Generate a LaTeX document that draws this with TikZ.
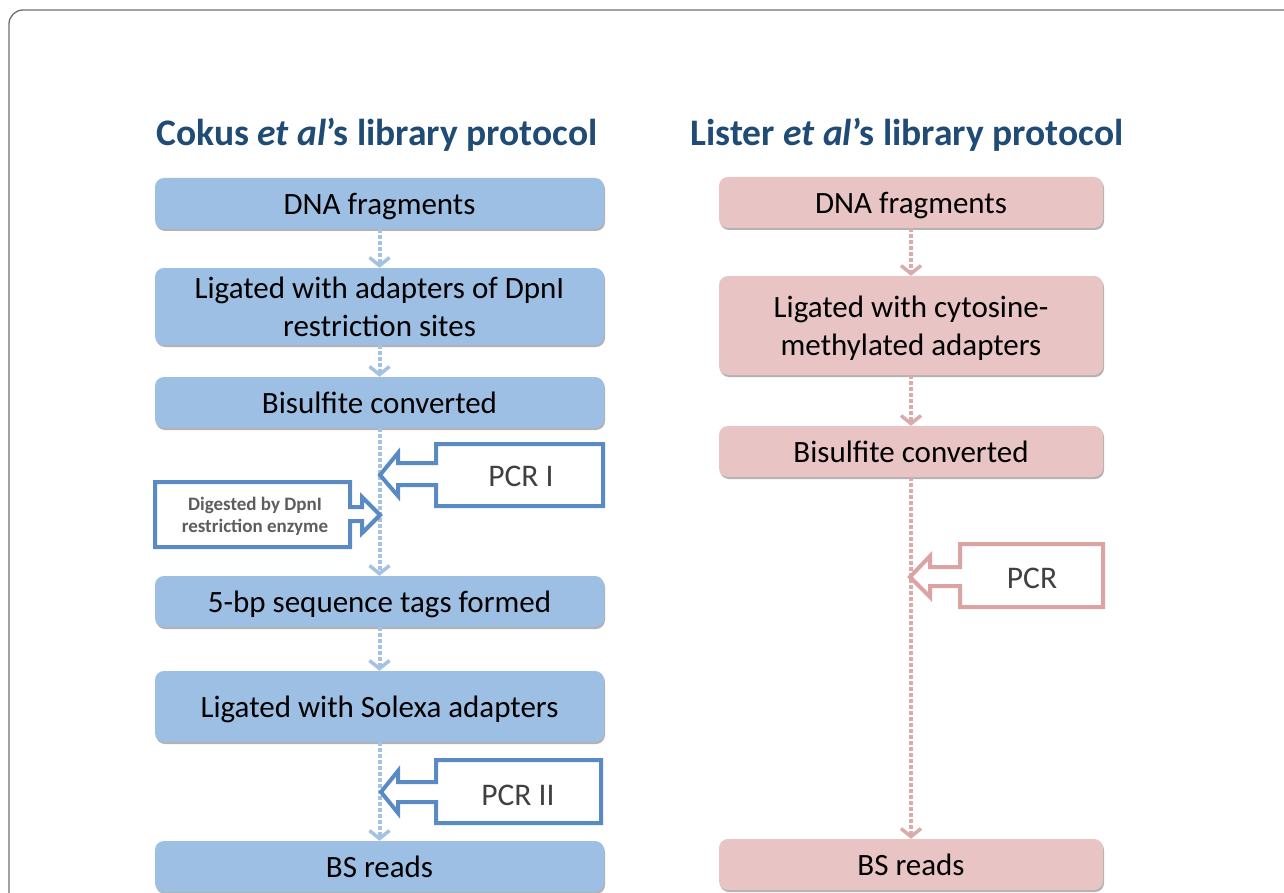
\documentclass[tikz,border=0pt]{standalone}
\usepackage{fontspec}
\setmainfont{Carlito}
\usetikzlibrary{arrows.meta,shadows}
\definecolor{boxblue}{HTML}{9DBFE3}
\definecolor{boxpink}{HTML}{E8C4C4}
\definecolor{titleblue}{HTML}{1F4B74}
\definecolor{strokeblue}{HTML}{5A8AC4}
\definecolor{strokepink}{HTML}{DCA3A3}
\definecolor{lineblue}{HTML}{A6C2E3}
\definecolor{linepink}{HTML}{DAABAB}
\definecolor{calltext}{HTML}{404040}
\definecolor{frameg}{HTML}{6E6E6E}
\begin{document}
\begin{tikzpicture}[x=1pt,y=-1pt,
  boxbase/.style={rounded corners=9pt, align=center, inner sep=2pt, text depth=0pt,
    font=\fontsize{31}{38}\selectfont,
    drop shadow={shadow xshift=1pt, shadow yshift=-2pt, opacity=0.3, fill=black}},
  lbox/.style={boxbase, fill=boxblue, minimum width=449pt},
  rbox/.style={boxbase, fill=boxpink, minimum width=384pt},
  ttl/.style={anchor=base, text=titleblue, font=\fontsize{37.5}{42}\selectfont\bfseries},
  lconn/.style={draw=lineblue, line width=4pt, dash pattern=on 4pt off 2pt,
    -{Straight Barb[length=8pt,width=20pt,line width=3.5pt]}},
  rconn/.style={draw=linepink, line width=4pt, dash pattern=on 4pt off 2pt,
    -{Straight Barb[length=8pt,width=20pt,line width=3.5pt]}},
  callb/.style={draw=strokeblue, line width=4pt, fill=white, line join=miter,
    drop shadow={shadow xshift=1.5pt, shadow yshift=-1.5pt, opacity=0.25, fill=black}},
  callp/.style={draw=strokepink, line width=4pt, fill=white, line join=miter,
    drop shadow={shadow xshift=1.5pt, shadow yshift=-1.5pt, opacity=0.25, fill=black}},
  calltxt/.style={text=calltext, font=\fontsize{31.5}{36}\selectfont},
  smalltxt/.style={text=calltext!85!white, align=center, font=\fontsize{19}{22}\selectfont\bfseries}
]
\useasboundingbox (0,0) rectangle (1284,893);
\clip (0,0) rectangle (1284,893);
\draw[frameg, line width=1.3pt, rounded corners=14pt] (9,10) rectangle (1310,920);

% titles
\node[ttl] (tl) at (377,146) {Cokus \textit{et al}’s library protocol};
\node[ttl] (tr) at (907,146) {Lister \textit{et al}’s library protocol};

% left column
\node[lbox, minimum height=51pt] (l1) at (379.5,203.5) {DNA fragments};
\node[lbox, minimum height=77pt] (l2) at (379.5,306.5) {Ligated with adapters of DpnI\\restriction sites};
\node[lbox, minimum height=51pt] (l3) at (379.5,402.5) {Bisulfite converted};
\node[lbox, minimum height=51pt] (l4) at (379.5,601.5) {5-bp sequence tags formed};
\node[lbox, minimum height=71pt] (l5) at (379.5,706.5) {Ligated with Solexa adapters};
\node[lbox, minimum height=51pt] (l6) at (379.5,866.5) {BS reads};

% right column
\node[rbox, minimum height=51pt] (r1) at (911,202.5) {DNA fragments};
\node[rbox, minimum height=99pt] (r2) at (911,325.5) {Ligated with cytosine-\\methylated adapters};
\node[rbox, minimum height=51pt] (r3) at (911,451.5) {Bisulfite converted};
\node[rbox, minimum height=51pt] (r4) at (911,864.5) {BS reads};

% connectors
\draw[lconn] (l1) -- (l2);
\draw[lconn] (l2) -- (l3);
\draw[lconn] (l3) -- (l4);
\draw[lconn] (l4) -- (l5);
\draw[lconn] (l5) -- (l6);
\draw[rconn] (r1) -- (r2);
\draw[rconn] (r2) -- (r3);
\draw[rconn] (r3) -- (r4);

% callouts
\draw[callb] (436,444) -- (603,444) -- (603,506) -- (436,506) -- (436,485) -- (398,485)
  -- (398,496) -- (380,475) -- (398,453) -- (398,463) -- (436,463) -- cycle;
\node[calltxt] (pcr1) at (521,476) {PCR I};

\draw[callb] (155,482) -- (350,482) -- (350,507) -- (362,507) -- (362,497) -- (380,515)
  -- (362,533) -- (362,521) -- (350,521) -- (350,547) -- (155,547) -- cycle;
\node[smalltxt] (dig) at (255,516) {Digested by DpnI\\restriction enzyme};

\draw[callb] (436,760) -- (601,760) -- (601,823) -- (436,823) -- (436,802) -- (398,802)
  -- (398,813) -- (381,792) -- (398,771) -- (398,782) -- (436,782) -- cycle;
\node[calltxt] (pcr2) at (518,795) {PCR II};

\draw[callp] (960,544) -- (1103,544) -- (1103,607) -- (960,607) -- (960,586) -- (930,586)
  -- (930,597) -- (910,577) -- (930,556) -- (930,567) -- (960,567) -- cycle;
\node[calltxt] (pcr) at (1032,578) {PCR};
\end{tikzpicture}
\end{document}
